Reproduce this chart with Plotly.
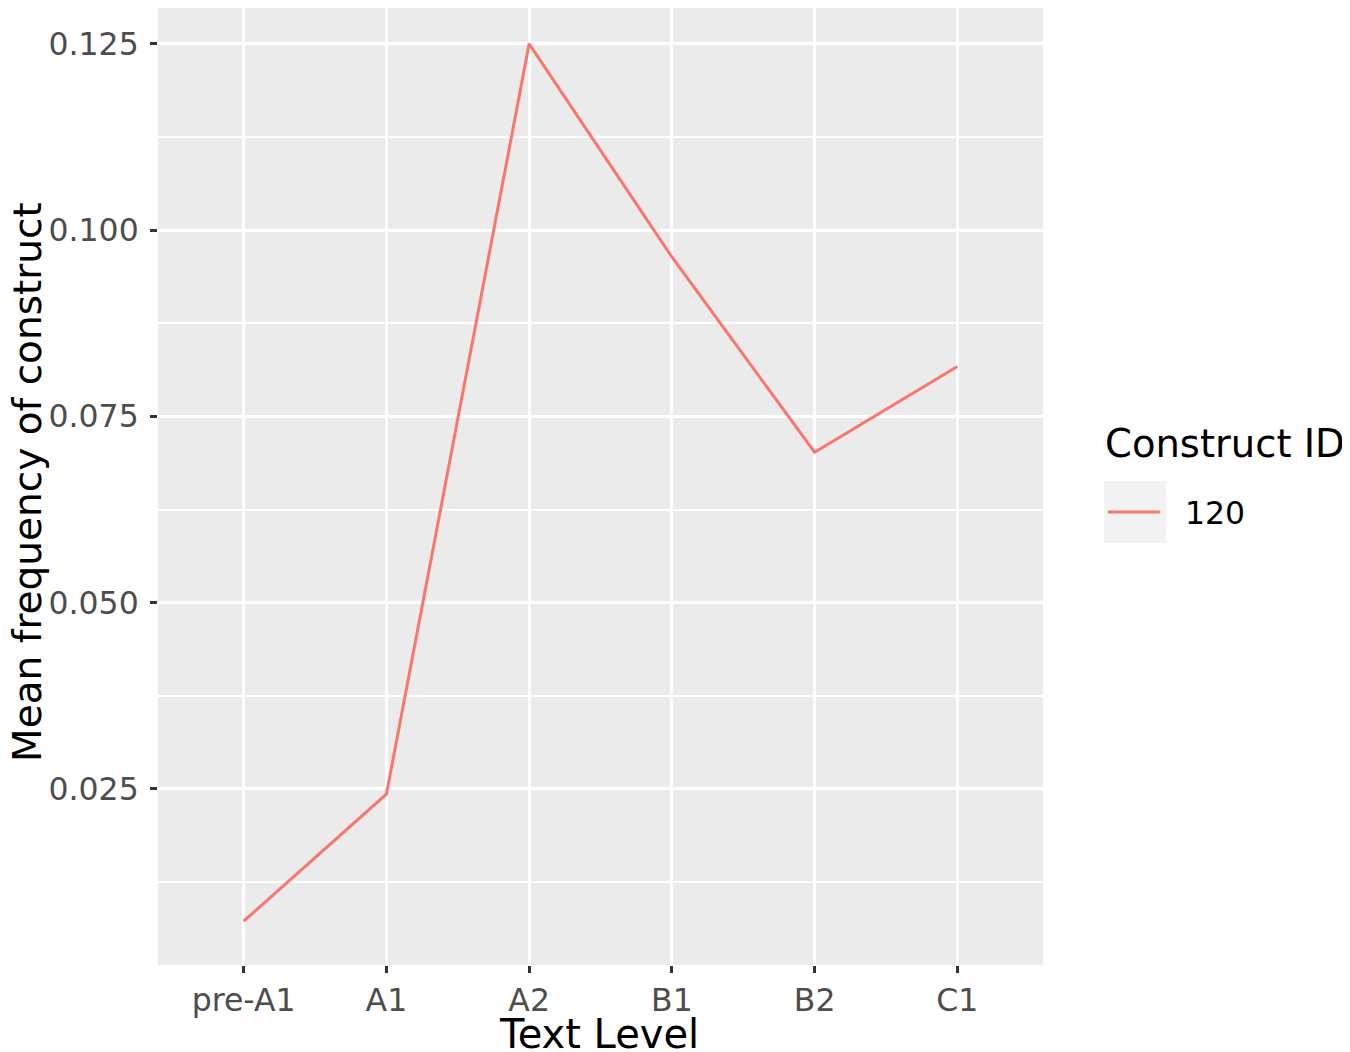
import plotly.graph_objects as go

levels = ["pre-A1", "A1", "A2", "B1", "B2", "C1"]
mean_freq = [0.00726, 0.0243, 0.125, 0.0964, 0.0702, 0.0817]
construct_id = "120"
y_ticks = [0.025, 0.050, 0.075, 0.100, 0.125]

FONT = "DejaVu Sans"
# the page body adds an 8px margin
OFF = 8
W, H = 1334, 1044
PANEL_L, PANEL_R, PANEL_T, PANEL_B = 158, 1043, 8, 965
L = PANEL_L - OFF
R = W + OFF - PANEL_R
T = PANEL_T - OFF
B = H + OFF - PANEL_B
PW, PH = W - L - R, H - T - B


def px(xpix):
    return (xpix - PANEL_L) / PW


def py(ypix):
    return (PANEL_B - ypix) / PH


fig = go.Figure()
fig.add_trace(go.Scatter(
    x=list(range(len(levels))), y=mean_freq, mode="lines",
    name="\u00a0\u00a0" + construct_id,
    line=dict(color="#F8766D", width=3),
))

ymin, ymax = min(mean_freq), max(mean_freq)
pad = (ymax - ymin) * 0.05
lo, hi = ymin - pad, ymax + pad
hi = hi - (hi - lo) * 8 / 965  # panel starts 8px lower than in the reference

fig.update_layout(
    width=W, height=H,
    margin=dict(l=L, r=R, t=T, b=B, pad=0),
    paper_bgcolor="white", plot_bgcolor="#EBEBEB",
    font=dict(family=FONT, color="black"),
    showlegend=True,
    legend=dict(
        font=dict(size=31.5, family=FONT, color="black"),
        x=px(1103), y=py(512), xanchor="left", yanchor="middle",
        bgcolor="rgba(0,0,0,0)", itemwidth=52, tracegroupgap=0,
    ),
    xaxis=dict(
        tickmode="array", tickvals=list(range(len(levels))), ticktext=levels,
        range=[-0.6, len(levels) - 1 + 0.6],
        showgrid=True, gridcolor="white", gridwidth=3,
        zeroline=False, showline=False,
        ticks="outside", ticklen=7, tickwidth=3, tickcolor="#333333",
        tickfont=dict(size=31.5, family=FONT, color="#4D4D4D"),
    ),
    yaxis=dict(
        tickmode="array", tickvals=y_ticks, ticktext=[f"{v:.3f}" for v in y_ticks],
        range=[lo, hi],
        showgrid=True, gridcolor="white", gridwidth=3,
        zeroline=False, showline=False,
        ticks="outside", ticklen=7, tickwidth=3, tickcolor="#333333",
        tickfont=dict(size=31.5, family=FONT, color="#4D4D4D"),
        ticklabelstandoff=5,
        minor=dict(tickmode="array",
                   tickvals=[v - 0.0125 for v in y_ticks] + [y_ticks[-1] + 0.0125],
                   showgrid=True, gridcolor="white", gridwidth=1.5, ticks=""),
    ),
)

# axis titles
fig.add_annotation(text="Text Level", xref="paper", yref="paper",
                   x=px(599), y=py(1034), xanchor="center", yanchor="middle",
                   showarrow=False, font=dict(size=40, family=FONT, color="black"))
fig.add_annotation(text="Mean frequency of construct", xref="paper", yref="paper",
                   x=px(27), y=py(482), xanchor="center", yanchor="middle",
                   textangle=-90, showarrow=False,
                   font=dict(size=39, family=FONT, color="black"))

# legend title
fig.add_annotation(text="Construct ID", xref="paper", yref="paper",
                   x=px(1103), y=py(443), xanchor="left", yanchor="middle",
                   showarrow=False, font=dict(size=38.5, family=FONT, color="black"))

# grey legend key background
fig.add_shape(type="rect", xref="paper", yref="paper",
              x0=px(1104), x1=px(1166), y0=py(543), y1=py(481),
              fillcolor="#F2F2F2", line=dict(width=0), layer="below")

fig.write_html("out.html")
